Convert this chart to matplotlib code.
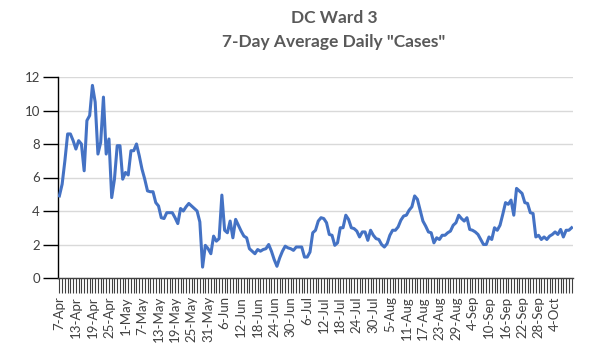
import matplotlib
matplotlib.use("Agg")
import matplotlib.pyplot as plt
import pandas as pd

start_date = "2020-04-07"
values = [
    4.9, 5.6, 7.0, 8.6, 8.6, 8.2, 7.7, 8.2, 8.0, 6.4,
    9.4, 9.7, 11.5, 10.5, 7.4, 8.1, 10.8, 7.4, 8.3, 4.8,
    5.9, 7.9, 7.9, 5.9, 6.3, 6.15, 7.6, 7.6, 8.0, 7.3,
    6.5, 5.9, 5.2, 5.15, 5.15, 4.5, 4.3, 3.6, 3.55, 3.9,
    3.9, 3.9, 3.6, 3.25, 4.15, 4.0, 4.25, 4.45, 4.3, 4.15,
    4.0, 3.35, 0.65, 1.95, 1.75, 1.45, 2.5, 2.2, 2.35, 4.95,
    2.85, 2.7, 3.4, 2.4, 3.5, 3.15, 2.8, 2.5, 2.4, 1.75,
    1.6, 1.45, 1.7, 1.6, 1.7, 1.75, 2.0, 1.6, 1.1, 0.7,
    1.2, 1.6, 1.9, 1.8, 1.75, 1.65, 1.85, 1.85, 1.85, 1.25,
    1.25, 1.55, 2.7, 2.85, 3.4, 3.6, 3.55, 3.3, 2.6, 2.55,
    1.95, 2.1, 3.0, 3.0, 3.75, 3.5, 3.0, 2.95, 2.8, 2.45,
    2.75, 2.75, 2.25, 2.85, 2.55, 2.35, 2.3, 2.0, 1.85, 2.05,
    2.55, 2.85, 2.85, 3.05, 3.45, 3.7, 3.75, 4.05, 4.25, 4.9,
    4.7, 4.05, 3.4, 3.1, 2.75, 2.7, 2.1, 2.4, 2.3, 2.55,
    2.55, 2.7, 2.8, 3.15, 3.3, 3.75, 3.55, 3.4, 3.6, 2.9,
    2.85, 2.75, 2.6, 2.3, 2.0, 2.0, 2.45, 2.3, 3.0, 2.85,
    3.15, 3.8, 4.5, 4.4, 4.65, 3.75, 5.35, 5.2, 5.05, 4.5,
    4.45, 3.9, 3.85, 2.45, 2.55, 2.3, 2.45, 2.3, 2.5, 2.6,
    2.75, 2.6, 2.9, 2.45, 2.85, 2.85, 3.0,
]
dates = pd.date_range(start_date, periods=len(values), freq="D")
categories = [f"{d.day}-{d.strftime('%b')}" for d in dates]
label_every = 6
y_ticks = [0, 2, 4, 6, 8, 10, 12]
title_lines = ["DC Ward 3", '7-Day Average Daily "Cases"']

plt.rcParams['font.family'] = ['Lato', 'DejaVu Sans']

fig = plt.figure(figsize=(5.93, 3.59), dpi=100)
ax = fig.add_axes([58/593, 1-278/359, (573-58)/593, (278-77)/359])

x = list(range(len(values)))
ax.plot(x, values, color="#4472C4", lw=2.2, solid_joinstyle="round", zorder=3)

ax.set_xlim(-0.5, len(values) - 0.5)
ax.set_ylim(0, 12)
ax.set_yticks(y_ticks)
ax.yaxis.grid(True, color="#d9d9d9", lw=1.0)
ax.set_axisbelow(True)

n = len(values)
ax.set_xticks(x)
ax.set_xticklabels([c if (i % label_every == 0 and i < n - 3) else ""
                    for i, c in enumerate(categories)],
                   rotation=90, fontsize=9.5, color="#404040")
ax.tick_params(axis="x", length=11, width=0.8, color="#404040", pad=2)
ax.tick_params(axis="y", length=11, width=1.0, color="#000000", pad=2,
               labelsize=9.5, labelcolor="#404040")

for s in ["top", "right"]:
    ax.spines[s].set_visible(False)
ax.spines["left"].set_color("black")
ax.spines["left"].set_linewidth(1.0)
ax.spines["bottom"].set_color("#404040")
ax.spines["bottom"].set_linewidth(1.0)

fig.text(334/593, 1-18/359, title_lines[0], ha="center", va="center",
         fontsize=12.5, fontweight="bold", color="#595959")
fig.text(334/593, 1-42/359, title_lines[1], ha="center", va="center",
         fontsize=12.5, fontweight="bold", color="#595959")

fig.savefig("out.png", dpi=100, facecolor="white")
